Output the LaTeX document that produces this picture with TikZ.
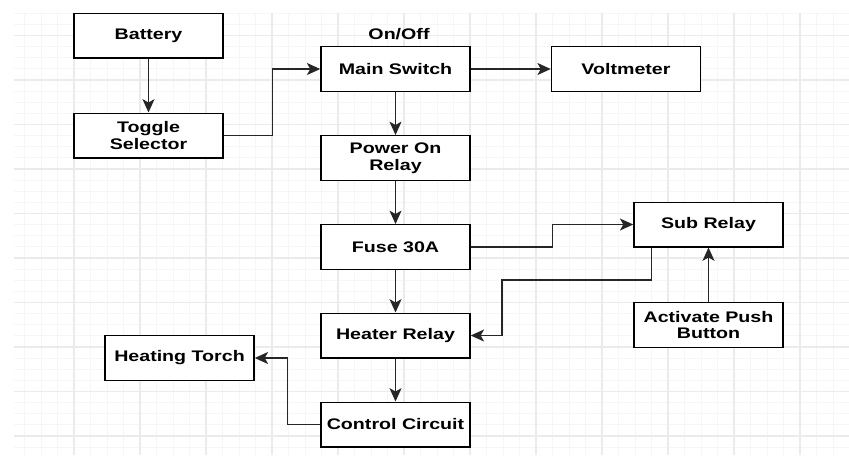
\documentclass[tikz,border=0pt]{standalone}
\usepackage{fontspec}
\newfontfamily\boxfont{Liberation Sans}[FakeStretch=1.28]
\usetikzlibrary{arrows.meta}
\definecolor{gridmajor}{HTML}{EBEBEB}
\definecolor{gridminor}{HTML}{F6F6F6}
\begin{document}
\begin{tikzpicture}[x=0.75pt, y=-0.75pt,
    block/.style={draw, line width=1.1pt, fill=white, minimum width=111.75pt, minimum height=33.4pt,
        inner sep=0pt, align=center, font=\boxfont\bfseries\fontsize{11.5}{12.5}\selectfont},
    caption/.style={font=\boxfont\bfseries\fontsize{11.5}{12.5}\selectfont},
    arrow/.style={-{Stealth[length=10pt, width=9pt, inset=2.5pt]}, line width=1.1pt, black!85}
]
\useasboundingbox (0,0) rectangle (849,455);
% Grid background
\begin{scope}
\clip (14,13) rectangle (849,455);
\foreach \i in {0,...,51} {
    \draw[gridminor, line width=0.75pt] ({8+16.5*\i},13) -- ({8+16.5*\i},455);
}
\foreach \i in {0,...,42} {
    \draw[gridminor, line width=0.75pt] (14,{-9+11.125*\i}) -- (849,{-9+11.125*\i});
}
\foreach \i in {0,...,13} {
    \draw[gridmajor, line width=0.8pt] ({8+66*\i},13) -- ({8+66*\i},455);
}
\foreach \i in {0,...,11} {
    \draw[gridmajor, line width=0.8pt] (14,{-9+44.5*\i}) -- (849,{-9+44.5*\i});
}
\end{scope}

% Blocks
\node[block] (battery) at (148.5,35.5) {Battery};
\node[block] (toggle) at (148.5,135.5) {Toggle\\Selector};
\node[block] (main) at (395.5,69) {Main Switch};
\node[caption] (onoff) at (399,34) {On/Off};
\node[block] (volt) at (626,69) {Voltmeter};
\node[block] (power) at (395.5,158) {Power On\\Relay};
\node[block] (fuse) at (395.5,247) {Fuse 30A};
\node[block] (sub) at (708.5,224.5) {Sub Relay};
\node[block] (push) at (708.5,325) {Activate Push\\Button};
\node[block] (heater) at (395.5,335.5) {Heater Relay};
\node[block] (torch) at (179.5,358) {Heating Torch};
\node[block] (control) at (395.5,424.5) {Control Circuit};

% Connections
\coordinate (bend) at (502,280);
\draw[arrow] (battery) -- (toggle);
\draw[arrow] (toggle.east) -- ++(49,0) |- (main.west);
\draw[arrow] (main) -- (volt);
\draw[arrow] (main) -- (power);
\draw[arrow] (power) -- (fuse);
\draw[arrow] (fuse.east) -- ++(82,0) |- (sub.west);
\draw[arrow] ([xshift=13.5pt]sub.south west) |- (bend) |- (heater.east);
\draw[arrow] (push) -- (sub);
\draw[arrow] (fuse) -- (heater);
\draw[arrow] (heater) -- (control);
\draw[arrow] (control.west) -- ++(-33,0) |- (torch.east);
\end{tikzpicture}
\end{document}
